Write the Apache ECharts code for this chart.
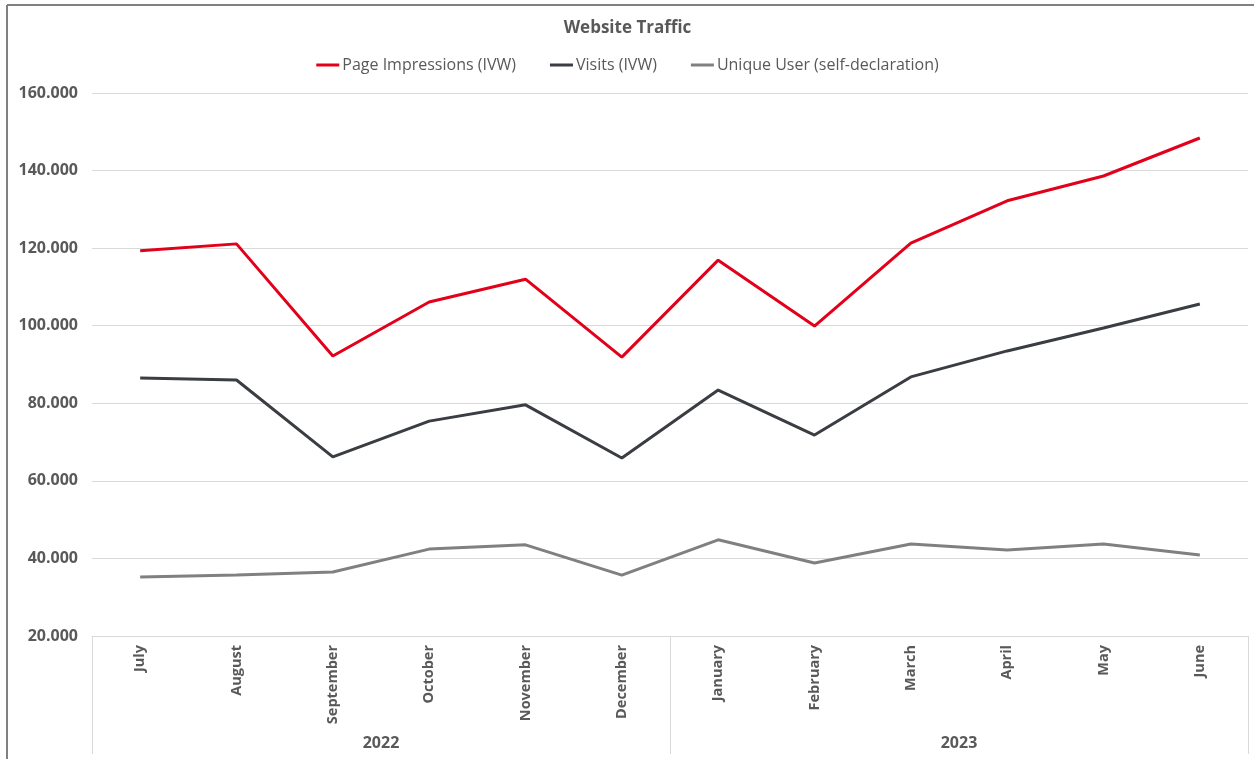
<!DOCTYPE html>
<html>
<head>
<meta charset="utf-8">
<script src="https://cdn.jsdelivr.net/npm/echarts@6/dist/echarts.min.js"></script>
<style>
html,body{margin:0;padding:0;background:#fff;}
#chart{width:1255px;height:759px;}
</style>
</head>
<body>
<div id="chart"></div>
<script>
const months = ['July','August','September','October','November','December','January','February','March','April','May','June'];
const years = ['2022','2023'];
const pageImpressions = [119300,121100,92200,106100,112000,91900,116900,99900,121300,132200,138600,148400];
const visits = [86500,86000,66200,75400,79600,65900,83400,71800,86800,93500,99400,105600];
const uniqueUsers = [35200,35700,36500,42400,43500,35700,44800,38800,43700,42200,43700,40900];
const seriesNames = ['Page Impressions (IVW)','Visits (IVW)','Unique User (self-declaration)'];
const colors = ['#E2001A','#3A3D42','#808080'];

const fmt = v => String(v).replace(/\B(?=(\d{3})+(?!\d))/g, '.');
const txt = '#595959';
const ff = '"Open Sans", sans-serif';

const chart = echarts.init(document.getElementById('chart'), null, {renderer:'canvas'});
chart.setOption({
  animation:false,
  backgroundColor:'#fff',
  color:colors,
  title:{text:'Website Traffic',left:'center',top:15,
    textStyle:{fontFamily:ff,fontSize:17,fontWeight:'bold',color:txt}},
  legend:{top:52,left:'center',itemWidth:23,itemHeight:3,itemGap:34,icon:'rect',
    textStyle:{fontFamily:ff,fontSize:16,color:txt,padding:[0,0,0,-2]},
    data:seriesNames},
  grid:{left:92,right:7,top:93,bottom:123,containLabel:false},
  xAxis:[{
    type:'category',data:months,boundaryGap:true,
    axisLine:{lineStyle:{color:'#D9D9D9',width:1}},
    axisTick:{show:false},
    axisLabel:{rotate:90,margin:9,fontFamily:ff,fontSize:14.5,fontWeight:'bold',color:txt,interval:0}
  },{
    type:'category',data:years,position:'bottom',boundaryGap:true,
    axisLine:{show:false},
    axisTick:{show:true,length:118,lineStyle:{color:'#D9D9D9',width:1}},
    axisLabel:{margin:99,fontFamily:ff,fontSize:16,fontWeight:'bold',color:txt}
  }],
  yAxis:{type:'value',min:20000,max:160000,interval:20000,
    axisLine:{show:false},axisTick:{show:false},
    splitLine:{lineStyle:{color:'#D9D9D9',width:1}},
    axisLabel:{margin:14,formatter:fmt,fontFamily:ff,fontSize:16,fontWeight:'bold',color:txt}},
  series:[
    {name:seriesNames[0],type:'line',data:pageImpressions,showSymbol:false,lineStyle:{width:3,color:colors[0]},itemStyle:{color:colors[0]}},
    {name:seriesNames[1],type:'line',data:visits,showSymbol:false,lineStyle:{width:3,color:colors[1]},itemStyle:{color:colors[1]}},
    {name:seriesNames[2],type:'line',data:uniqueUsers,showSymbol:false,lineStyle:{width:3,color:colors[2]},itemStyle:{color:colors[2]}}
  ],
  graphic:[
    {type:'line',shape:{x1:7,y1:5,x2:1254,y2:5},style:{stroke:'#808080',lineWidth:2},silent:true},
    {type:'line',shape:{x1:7,y1:5,x2:7,y2:759},style:{stroke:'#808080',lineWidth:2},silent:true}
  ]
});
</script>
</body>
</html>
